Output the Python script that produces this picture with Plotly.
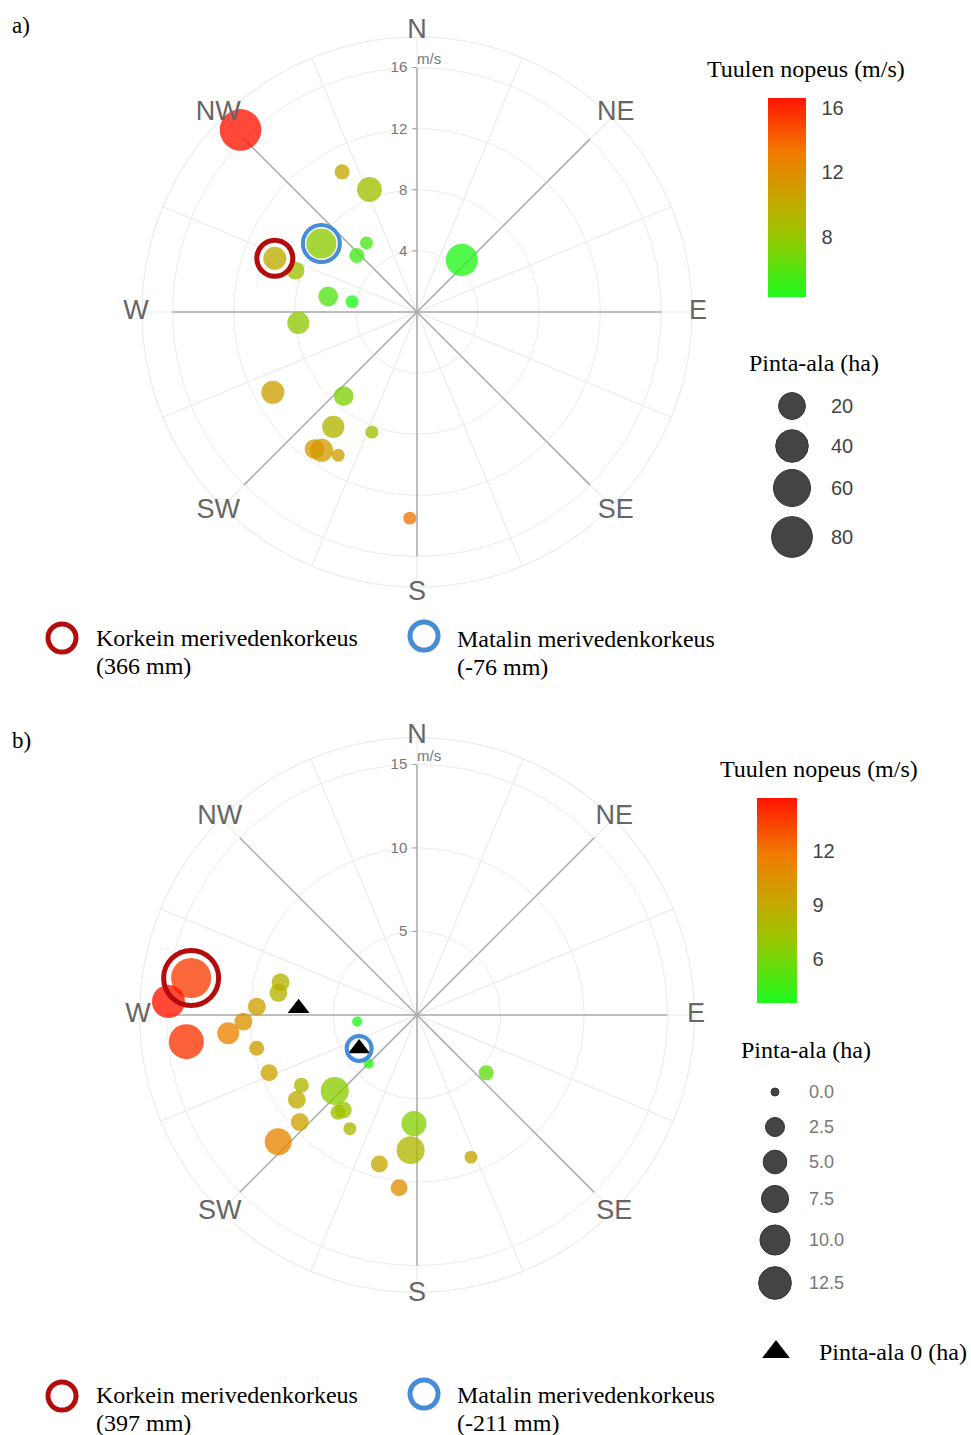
import numpy as np
import plotly.graph_objects as go

# ---------------- data: panel a ----------------
a_theta = [315.9, 331.9, 338.8, 305.6, 290.7, 288.8, 323.8, 313.2, 279.9, 279.1,
           264.8, 240.9, 221.1, 216.1, 200.6, 214.6, 216.8, 208.8, 182.0, 40.7]
a_speed = [16.6, 10.4, 8.6, 7.7, 9.95, 8.4, 5.6, 5.4, 5.9, 4.3,
           7.8, 10.8, 7.3, 9.3, 8.4, 11.0, 11.2, 10.7, 13.5, 4.5]
a_area = [98, 1.7, 20, 38, 15, 5, 0.4, 1.7, 8, 0.4,
          13, 15, 8, 13, 0.4, 15, 8, 0.4, 0.4, 46]
a_high_idx = 4
a_low_idx = 3
a_high_lines = ["Korkein merivedenkorkeus", "(366 mm)"]
a_low_lines = ["Matalin merivedenkorkeus", "(-76 mm)"]
a_rticks = [4, 8, 12, 16]
a_size_legend = [20, 40, 60, 80]
a_cbar_ticks = [8, 12, 16]

# ---------------- data: panel b ----------------
b_theta = [279.3, 273.1, 283.5, 279.1, 273.0, 267.8, 264.5, 263.4, 258.3, 248.7,
           238.7, 234.8, 227.6, 227.6, 227.3, 217.8, 219.1, 210.6, 263.7, 224.8,
           129.9, 181.6, 182.7, 194.2, 159.2, 185.9]
b_speed = [13.7, 14.9, 8.4, 8.4, 9.6, 10.4, 11.35, 13.9, 9.8, 9.5,
           8.1, 8.8, 9.5, 11.25, 6.7, 7.2, 7.5, 7.9, 3.6, 4.1,
           5.4, 6.5, 8.1, 9.2, 9.1, 10.4]
b_area = [21, 12.8, 2, 2, 2, 2, 4, 14.9, 1, 1.65,
          1, 2, 2, 7.4, 8.2, 1.65, 1, 0.5, 0.1, 0.1,
          1, 5.9, 8.2, 1.65, 0.5, 1.65]
b_zero_theta = [273.3, 240.0]
b_zero_speed = [7.1, 4.0]
b_high_idx = 0          # index into b arrays
b_low_zero_idx = 1      # index into zero-area arrays
b_high_lines = ["Korkein merivedenkorkeus", "(397 mm)"]
b_low_lines = ["Matalin merivedenkorkeus", "(-211 mm)"]
b_rticks = [5, 10, 15]
b_size_legend = [0.0, 2.5, 5.0, 7.5, 10.0, 12.5]
b_cbar_ticks = [6, 9, 12]

directions = ["N", "NE", "E", "SE", "S", "SW", "W", "NW"]
dir_angles = [0, 45, 90, 135, 180, 225, 270, 315]

# ---------------- styles ----------------
W, H = 971, 1435
SERIF = "Liberation Serif, Times New Roman, serif"
SANS = "Liberation Sans, Arial, sans-serif"
COLORSCALE = [[0.0, "rgb(30,250,30)"], [0.3, "rgb(150,200,0)"], [0.5, "rgb(200,165,0)"],
              [0.72, "rgb(240,125,0)"], [1.0, "rgb(255,20,0)"]]
RED_RING = "rgb(180,12,12)"
BLUE_RING = "rgb(70,140,215)"
GRID = "#ebebeb"


def size_a(area):
    return 11 + 3.1 * np.sqrt(np.asarray(area, dtype=float))


def size_b(area):
    return 8 + 7.0 * np.sqrt(np.asarray(area, dtype=float))


def spokes(angles, length):
    r, t = [], []
    for ang in angles:
        r += [0, length, None]
        t += [ang, ang, None]
    return r, t


fig = go.Figure()


def add_panel(pid, theta, speed, area, sizef, label_r, circle_r, linelen, cbar):
    sub = "polar" if pid == 1 else "polar%d" % pid
    # light grid: 16 spokes and outer circle
    sr, st = spokes(list(np.arange(0, 360, 22.5)), circle_r)
    fig.add_trace(go.Scatterpolar(r=sr, theta=st, mode="lines", subplot=sub,
                                  line=dict(color=GRID, width=1.2), hoverinfo="skip"))
    ring_t = list(np.arange(0, 361, 1.0))
    fig.add_trace(go.Scatterpolar(r=[circle_r] * len(ring_t), theta=ring_t, mode="lines",
                                  subplot=sub, line=dict(color=GRID, width=1.2),
                                  hoverinfo="skip"))
    # compass direction lines
    lr, lt = spokes(dir_angles, linelen)
    fig.add_trace(go.Scatterpolar(r=lr, theta=lt, mode="lines", subplot=sub,
                                  line=dict(color="#aaaaaa", width=1.5),
                                  hoverinfo="skip"))
    fig.add_trace(go.Scatterpolar(
        r=speed, theta=theta, mode="markers", subplot=sub,
        marker=dict(size=sizef(area), color=speed, colorscale=COLORSCALE,
                    cmin=min(speed), cmax=max(speed), opacity=0.78,
                    line=dict(width=0), showscale=True, colorbar=cbar)))
    fig.add_trace(go.Scatterpolar(
        r=[label_r] * 8, theta=dir_angles, text=directions, mode="text", subplot=sub,
        textfont=dict(family=SANS, size=27, color="#666"), cliponaxis=False,
        hoverinfo="skip"))
    fig.add_trace(go.Scatterpolar(
        r=[linelen], theta=[0], text=["m/s"], mode="text", subplot=sub,
        textposition="top right", textfont=dict(family=SANS, size=15, color="#777"),
        cliponaxis=False, hoverinfo="skip"))


def cbar(x_left, y_bottom, length, thick, ticks):
    return dict(x=x_left / W, xanchor="left", xpad=0, y=1 - y_bottom / H, yanchor="bottom",
                ypad=0, len=length, lenmode="pixels", thickness=thick,
                thicknessmode="pixels", outlinewidth=0, tickvals=ticks, ticks="outside",
                ticklen=12, tickcolor="rgba(0,0,0,0)",
                tickfont=dict(family=SANS, size=20, color="#444"))


A_RANGE, B_RANGE = 18.4, 16.7
add_panel(1, a_theta, a_speed, a_area, size_a, A_RANGE, 18, 16,
          cbar(768, 297, 199, 38, a_cbar_ticks))
add_panel(2, b_theta, b_speed, b_area, size_b, B_RANGE, 16.6, 15,
          cbar(757, 1003, 205, 40, b_cbar_ticks))

# zero-area triangles (panel b)
fig.add_trace(go.Scatterpolar(r=b_zero_speed, theta=b_zero_theta, mode="markers",
                              subplot="polar2",
                              marker=dict(symbol="triangle-up", size=19, color="black",
                                          opacity=1)))


# highlight rings
def ring(sub, r, t, color, size, lw):
    fig.add_trace(go.Scatterpolar(r=[r], theta=[t], mode="markers", subplot=sub,
                                  marker=dict(symbol="circle-open", size=size, color=color,
                                              opacity=1,
                                              line=dict(width=lw, color=color))))


ring("polar", a_speed[a_high_idx], a_theta[a_high_idx], RED_RING, 36, 5)
ring("polar", a_speed[a_low_idx], a_theta[a_low_idx], BLUE_RING, 37, 4)
ring("polar2", b_speed[b_high_idx], b_theta[b_high_idx], RED_RING, 55, 5)
ring("polar2", b_zero_speed[b_low_zero_idx], b_zero_theta[b_low_zero_idx], BLUE_RING, 25, 4)


def polar_layout(cx, cy, rad, rmax, rticks):
    return dict(
        domain=dict(x=[(cx - rad) / W, (cx + rad) / W],
                    y=[(H - cy - rad) / H, (H - cy + rad) / H]),
        bgcolor="rgba(0,0,0,0)",
        radialaxis=dict(range=[0, rmax], tickvals=rticks, angle=90, side="counterclockwise",
                        tickangle=90, showline=False, ticks="outside", ticklen=4,
                        tickcolor="#999", gridcolor=GRID, gridwidth=1.2,
                        layer="below traces",
                        tickfont=dict(family=SANS, size=15, color="#777")),
        angularaxis=dict(rotation=90, direction="clockwise", showgrid=False,
                         showticklabels=False, ticks="", showline=False))


# ---------------- legends (helper cartesian axes in page pixels) ----------------
ann = []


def text(x, y, s, size=24, family=SERIF, color="black", xanchor="left"):
    ann.append(dict(x=x, y=y, xref="x", yref="y", text=s, showarrow=False,
                    xanchor=xanchor, yanchor="middle", align="left",
                    font=dict(family=family, size=size, color=color)))


text(10, 25, "a)", size=23)
text(10, 740, "b)", size=23)
text(806, 69, "Tuulen nopeus (m/s)", xanchor="center")
text(819, 769, "Tuulen nopeus (m/s)", xanchor="center")
text(814, 363, "Pinta-ala (ha)", xanchor="center")
text(806, 1050, "Pinta-ala (ha)", xanchor="center")

a_leg_y = [406, 446, 488, 537]
fig.add_trace(go.Scatter(x=[792] * 4, y=a_leg_y, mode="markers", xaxis="x", yaxis="y",
                         marker=dict(size=size_a(a_size_legend) + 2, color="#444", opacity=1,
                                     line=dict(color="#333", width=1)), hoverinfo="skip"))
for v, y in zip(a_size_legend, a_leg_y):
    text(829, y, "%d" % v, size=20, family=SANS, color="#444")

b_leg_y = [1092, 1127, 1162, 1199, 1240, 1283]
fig.add_trace(go.Scatter(x=[775] * 6, y=b_leg_y, mode="markers", xaxis="x", yaxis="y",
                         marker=dict(size=size_b(b_size_legend), color="#444", opacity=1,
                                     line=dict(color="#333", width=1)), hoverinfo="skip"))
for v, y in zip(b_size_legend, b_leg_y):
    text(807, y, "%.1f" % v, size=18, family=SANS, color="#777")

fig.add_trace(go.Scatter(x=[776], y=[1352], mode="markers", xaxis="x", yaxis="y",
                         marker=dict(symbol="triangle-up", size=24, color="black", opacity=1),
                         hoverinfo="skip"))
text(817, 1352, "Pinta-ala 0 (ha)")

# ring legend keys
for (x, y, c) in [(62, 638, RED_RING), (424, 636, BLUE_RING),
                  (62, 1396, RED_RING), (424, 1394, BLUE_RING)]:
    fig.add_trace(go.Scatter(x=[x], y=[y], mode="markers", xaxis="x", yaxis="y",
                             marker=dict(symbol="circle-open", size=28, color=c, opacity=1,
                                         line=dict(width=5, color=c)), hoverinfo="skip"))
for (x, y0, lines) in [(94, 638, a_high_lines), (455, 639, a_low_lines),
                       (94, 1395, b_high_lines), (455, 1395, b_low_lines)]:
    text(x, y0, lines[0])
    text(x, y0 + 28, lines[1])

fig.update_layout(
    width=W, height=H, margin=dict(l=0, r=0, t=0, b=0),
    paper_bgcolor="white", plot_bgcolor="rgba(0,0,0,0)", showlegend=False,
    polar=polar_layout(417, 312, 275 * A_RANGE / 18, A_RANGE, a_rticks),
    polar2=polar_layout(417, 1015, 279, B_RANGE, b_rticks),
    xaxis=dict(domain=[0, 1], range=[0, W], visible=False, fixedrange=True),
    yaxis=dict(domain=[0, 1], range=[H, 0], visible=False, fixedrange=True),
    annotations=ann,
)

fig.write_html("out.html")
